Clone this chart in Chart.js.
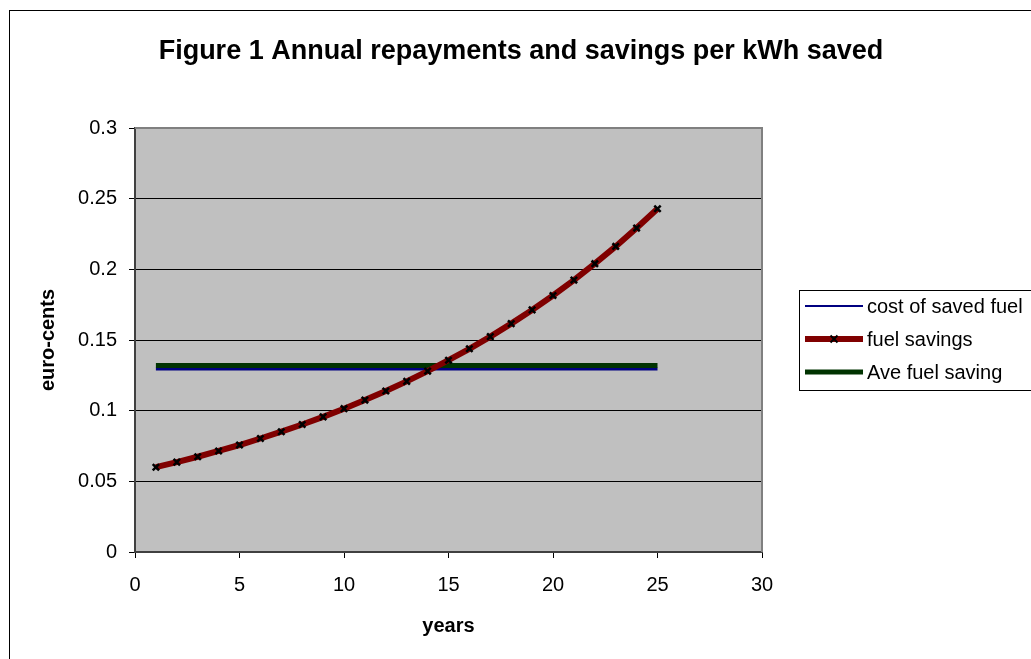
<!DOCTYPE html>
<html>
<head>
<meta charset="utf-8">
<script src="https://cdn.jsdelivr.net/npm/chart.js@4/dist/chart.umd.min.js"></script>
<style>
html,body{margin:0;padding:0;background:#fff;}
#wrap{width:1031px;height:659px;}
</style>
</head>
<body>
<div id="wrap"><canvas id="c" width="1031" height="659"></canvas></div>
<script>
const chartTitle = 'Figure 1 Annual repayments and savings per kWh saved';
const xTitle = 'years';
const yTitle = 'euro-cents';
const years = [1,2,3,4,5,6,7,8,9,10,11,12,13,14,15,16,17,18,19,20,21,22,23,24,25];
const costOfSavedFuel = [0.1295,0.1295,0.1295,0.1295,0.1295,0.1295,0.1295,0.1295,0.1295,0.1295,0.1295,0.1295,0.1295,0.1295,0.1295,0.1295,0.1295,0.1295,0.1295,0.1295,0.1295,0.1295,0.1295,0.1295,0.1295];
const fuelSavings = [0.060,0.0636,0.0674,0.0715,0.0757,0.0803,0.0851,0.0902,0.0956,0.1014,0.1075,0.1139,0.1207,0.1280,0.1357,0.1438,0.1524,0.1616,0.1713,0.1815,0.1924,0.2040,0.2162,0.2292,0.2429];
const aveFuelSaving = [0.132,0.132,0.132,0.132,0.132,0.132,0.132,0.132,0.132,0.132,0.132,0.132,0.132,0.132,0.132,0.132,0.132,0.132,0.132,0.132,0.132,0.132,0.132,0.132,0.132];
const seriesNames = ['cost of saved fuel','fuel savings','Ave fuel saving'];
const xTickLabels = ['0','5','10','15','20','25','30'];
const yTickLabels = ['0','0.05','0.1','0.15','0.2','0.25','0.3'];

const FONT = "'Liberation Sans', Arial, sans-serif";
Chart.defaults.font.family = FONT;
Chart.defaults.color = '#000';

function pts(xs, ys){ return xs.map((x,i)=>({x:x, y:ys[i]})); }

const decor = {
  id: 'decor',
  beforeDraw(chart){
    const {ctx, chartArea:a} = chart;
    ctx.save();
    ctx.fillStyle = '#fff';
    ctx.fillRect(0,0,chart.width,chart.height);
    ctx.fillStyle = '#C0C0C0';
    ctx.fillRect(a.left, a.top, a.right-a.left, a.bottom-a.top);
    ctx.restore();
  },
  afterDraw(chart){
    const {ctx, chartArea:a} = chart;
    ctx.save();
    ctx.strokeStyle = '#808080';
    ctx.lineWidth = 2;
    ctx.beginPath();
    ctx.moveTo(a.left, a.top); ctx.lineTo(a.right, a.top); ctx.lineTo(a.right, a.bottom);
    ctx.stroke();
    ctx.strokeStyle = '#000';
    ctx.lineWidth = 1;
    ctx.strokeRect(9.5, 10.5, 1100, 700);
    ctx.fillStyle = '#000';
    ctx.font = 'bold 27px ' + FONT;
    ctx.textAlign = 'center';
    ctx.textBaseline = 'alphabetic';
    ctx.fillText(chartTitle, 521, 59);
    ctx.strokeStyle = '#000';
    ctx.lineWidth = 1;
    ctx.strokeRect(799.5, 290.5, 400, 100);
    const rowsY = [306, 339, 372];
    ctx.font = '20px ' + FONT;
    ctx.textAlign = 'left';
    ctx.textBaseline = 'middle';
    [0,1,2].forEach((di, r) => {
      const ds = chart.data.datasets[di];
      const y = rowsY[r];
      ctx.strokeStyle = ds.borderColor;
      ctx.lineWidth = di === 0 ? 2 : ds.borderWidth;
      ctx.beginPath(); ctx.moveTo(805, y); ctx.lineTo(863, y); ctx.stroke();
      if (ds.pointRadius > 0) {
        ctx.strokeStyle = '#000';
        ctx.lineWidth = 2;
        const s = 3.5;
        ctx.beginPath();
        ctx.moveTo(834-s, y-s); ctx.lineTo(834+s, y+s);
        ctx.moveTo(834+s, y-s); ctx.lineTo(834-s, y+s);
        ctx.stroke();
      }
      ctx.fillStyle = '#000';
      ctx.fillText(ds.label, 867, y + 1);
    });
    ctx.restore();
  }
};

new Chart(document.getElementById('c'), {
  type: 'line',
  data: {
    datasets: [
      { label: seriesNames[0], data: pts(years, costOfSavedFuel), borderColor: '#000080', backgroundColor: '#000080', borderWidth: 3, pointRadius: 0, order: 2 },
      { label: seriesNames[1], data: pts(years, fuelSavings), borderColor: '#800000', backgroundColor: '#800000', borderWidth: 6, pointRadius: 4.5, pointStyle: 'crossRot', pointBorderColor: '#000', pointBorderWidth: 2.5, order: 0 },
      { label: seriesNames[2], data: pts(years, aveFuelSaving), borderColor: '#003300', backgroundColor: '#003300', borderWidth: 5, pointRadius: 0, order: 1 }
    ]
  },
  options: {
    responsive: false,
    animation: false,
    events: [],
    layout: { padding: { left: 0, top: 128, right: 269, bottom: 0 } },
    plugins: { legend: { display: false }, title: { display: false }, tooltip: { enabled: false } },
    scales: {
      x: {
        type: 'linear', min: 0, max: 30,
        afterFit(s){ s.height = 107; },
        ticks: { stepSize: 5, padding: 15, font: { size: 20 }, color: '#000', maxRotation: 0,
                 callback: (v, i) => xTickLabels[i] },
        grid: { drawOnChartArea: false, drawTicks: true, tickLength: 6, color: '#000', lineWidth: 1 },
        border: { display: true, color: '#404040', width: 2 },
        title: { display: true, text: xTitle, font: { size: 20, weight: 'bold' }, color: '#000', padding: { top: 0, bottom: 21 } }
      },
      y: {
        type: 'linear', min: 0, max: 0.3,
        afterFit(s){ s.width = 135; },
        ticks: { stepSize: 0.05, padding: 12, font: { size: 20 }, color: '#000',
                 callback: (v, i) => yTickLabels[i] },
        grid: { drawOnChartArea: true, drawTicks: true, tickLength: 6, color: '#000', lineWidth: 1 },
        border: { display: true, color: '#404040', width: 2 },
        title: { display: true, text: yTitle, font: { size: 20, weight: 'bold' }, color: '#000', padding: { top: 36, bottom: 0 } }
      }
    }
  },
  plugins: [decor]
});
</script>
</body>
</html>
